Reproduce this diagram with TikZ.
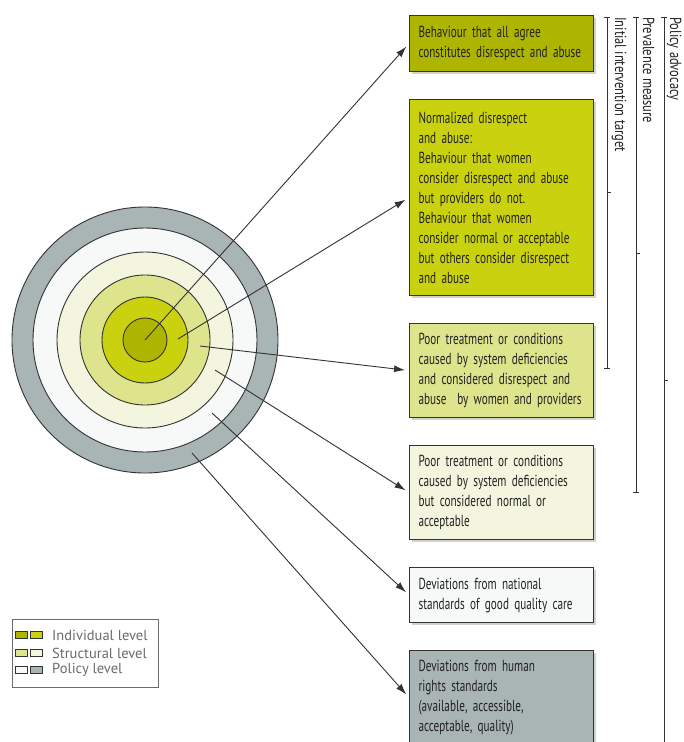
\documentclass[tikz,border=0pt]{standalone}
\usepackage{fontspec}
\setmainfont{PT Sans}[FakeStretch=0.70]
\newfontfamily\legfont{PT Sans}
\newfontfamily\lblfont{PT Sans}[FakeStretch=0.78]
\usetikzlibrary{arrows.meta,shadows}
\definecolor{lvA}{HTML}{AEB500}
\definecolor{lvB}{HTML}{CAD20F}
\definecolor{lvC}{HTML}{DEE48C}
\definecolor{lvD}{HTML}{F3F5DE}
\definecolor{lvE}{HTML}{F7F8F8}
\definecolor{lvF}{HTML}{A9B4B5}
\definecolor{linec}{HTML}{333333}
\definecolor{textc}{HTML}{222222}
\definecolor{legc}{HTML}{6A6B6D}
\begin{document}
\begin{tikzpicture}[x=1pt,y=-1pt,
  ring/.style={draw=linec,line width=0.9pt},
  box/.style={draw=linec,line width=1.1pt,anchor=north west,minimum width=184pt,
    text width=166pt,inner xsep=9pt,inner ysep=0pt,align=left,
    font=\fontsize{16}{20}\selectfont,text=textc,
    drop shadow={shadow xshift=2pt,shadow yshift=-2pt,opacity=0.18,fill=black}},
  arr/.style={draw=linec,line width=0.9pt,-{Latex[length=11pt,width=7pt]},shorten >=4pt},
  brk/.style={draw=linec,line width=0.9pt},
  blabel/.style={rotate=-90,anchor=base west,inner sep=0pt,font=\lblfont\fontsize{16}{18}\selectfont,text=textc},
  sq/.style={draw=linec,line width=0.6pt,minimum width=12pt,minimum height=7pt,inner sep=0pt},
  legtext/.style={anchor=west,inner sep=0pt,text=legc,font=\legfont\fontsize{14.5}{16}\selectfont}]
\clip (0,0) rectangle (684,742);
\fill[white] (0,0) rectangle (684,742);
% target circles
\coordinate (c) at (145,340);
\filldraw[ring,fill=lvF] (c) circle (133pt);
\filldraw[ring,fill=lvE] (c) circle (112pt);
\filldraw[ring,fill=lvD] (c) circle (88pt);
\filldraw[ring,fill=lvC] (c) circle (65pt);
\filldraw[ring,fill=lvB] (c) circle (43pt);
\filldraw[ring,fill=lvA] (c) circle (22pt);
% boxes
\node[box,fill=lvA,minimum height=56pt] (b1) at (409,15)
  {Behaviour that all agree\\constitutes disrespect and abuse};
\node[box,fill=lvB,minimum height=196pt] (b2) at (409,99)
  {Normalized disrespect\\and abuse:\\Behaviour that women\\consider disrespect and abuse\\but providers do not.\\Behaviour that women\\consider normal or acceptable\\but others consider disrespect\\and abuse};
\node[box,fill=lvC,minimum height=94pt] (b3) at (409,323)
  {Poor treatment or conditions\\caused by system deficiencies\\and considered disrespect and\\abuse\ \ by women and providers};
\node[box,fill=lvD,minimum height=94pt] (b4) at (409,445)
  {Poor treatment or conditions\\caused by system deficiencies\\but considered normal or\\acceptable};
\node[box,fill=lvE,minimum height=55pt] (b5) at (409,567)
  {Deviations from national\\standards of good quality care};
\node[box,fill=lvF,minimum height=94pt] (b6) at (409,650)
  {Deviations from human\\rights standards\\(available, accessible,\\acceptable, quality)};
% arrow starts
\coordinate (s1) at (145,340);
\coordinate (s2) at (178,339);
\coordinate (s3) at (200,346);
\coordinate (s4) at (215,370);
\coordinate (s5) at (212,413);
\coordinate (s6) at (192,453);
\draw[arr] (s1) -- (b1.west);
\draw[arr] (s2) -- (b2.west);
\draw[arr] (s3) -- (b3.west);
\draw[arr] (s4) -- (b4.west);
\draw[arr] (s5) -- (b5.west);
\draw[arr] (s6) -- (b6.west);
% brackets
\coordinate (iT) at (607,17); \coordinate (iB) at (607,368); \coordinate (iM) at (607,192);
\coordinate (pT) at (636,17); \coordinate (pB) at (636,492); \coordinate (pM) at (636,253);
\coordinate (aT) at (664,17); \coordinate (aB) at (664,760); \coordinate (aM) at (664,380);
\draw[brk] (iT) -- (iB);
\draw[brk] ([xshift=-3pt]iT) -- ([xshift=3pt]iT);
\draw[brk] ([xshift=-3pt]iB) -- ([xshift=3pt]iB);
\draw[brk] (iM) -- ([xshift=4pt]iM);
\draw[brk] (pT) -- (pB);
\draw[brk] ([xshift=-3pt]pT) -- ([xshift=3pt]pT);
\draw[brk] ([xshift=-3pt]pB) -- ([xshift=3pt]pB);
\draw[brk] (pM) -- ([xshift=4pt]pM);
\draw[brk] (aT) -- (aB);
\draw[brk] ([xshift=-3pt]aT) -- ([xshift=3pt]aT);
\draw[brk] (aM) -- ([xshift=4pt]aM);
\node[blabel] (li) at (615,17) {Initial intervention target};
\node[blabel] (lp) at (643,17) {Prevalence measure};
\node[blabel] (la) at (670,17) {Policy advocacy};
% legend
\node[draw=legc,line width=0.8pt,fill=white,anchor=north west,minimum width=146pt,minimum height=68pt,inner sep=0pt] (leg) at (12,619) {};
\node[sq,fill=lvA] (q1a) at (21.5,635) {};
\node[sq,fill=lvB] (q1b) at (36.5,635) {};
\node[sq,fill=lvC] (q2a) at (21.5,653) {};
\node[sq,fill=lvD] (q2b) at (36.5,653) {};
\node[sq,fill=lvE] (q3a) at (21.5,670) {};
\node[sq,fill=lvF] (q3b) at (36.5,670) {};
\node[legtext] (t1) at (52,635) {Individual level};
\node[legtext] (t2) at (52,653) {Structural level};
\node[legtext] (t3) at (52,670) {Policy level};
\end{tikzpicture}
\end{document}
